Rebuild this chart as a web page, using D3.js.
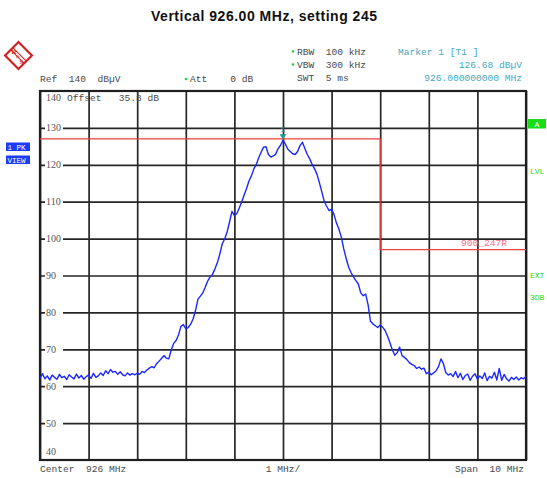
<!DOCTYPE html>
<html><head><meta charset="utf-8">
<script src="https://cdn.jsdelivr.net/npm/d3@7"></script>
<style>body{margin:0;background:#fff}svg{display:block}</style>
</head><body>
<svg id="c" width="547" height="478"></svg>
<script>
// ---------- data ----------
const startFreq = 921.0;     // MHz
const stepFreq = 0.05;       // MHz
const traceLevels = [
62.1,63.4,62.0,62.8,61.7,63.0,62.4,61.9,63.2,62.3,
62.7,61.8,63.1,62.5,62.0,63.3,62.2,62.9,61.9,62.6,
63.0,62.1,63.5,62.4,62.8,63.6,62.9,64.2,63.4,64.5,
63.8,64.0,63.2,63.9,63.1,62.8,63.6,63.0,63.4,63.1,
63.5,63.2,64.0,63.7,64.4,64.9,65.3,65.0,66.1,66.8,
67.5,68.3,67.6,67.4,69.8,71.6,72.4,73.9,76.2,76.7,
75.6,75.9,76.8,78.2,80.5,83.6,84.4,85.3,86.8,88.5,
89.6,90.3,91.8,93.5,95.8,98.6,99.9,101.8,104.5,107.4,
106.2,106.8,108.3,109.9,111.8,113.6,115.6,117.0,118.9,120.1,
121.9,123.4,124.8,124.9,122.8,122.1,122.4,122.9,124.4,125.3,
126.68,125.6,124.2,123.6,123.0,122.8,123.6,125.2,126.1,124.4,
122.8,121.6,120.1,118.9,117.4,115.1,112.6,110.0,108.7,107.6,
108.0,106.5,104.2,102.6,100.4,97.2,94.6,92.3,90.8,89.6,
88.6,87.7,85.3,84.5,85.0,82.1,77.6,76.9,76.4,75.9,
76.6,76.0,75.1,73.6,71.8,69.9,68.4,69.1,70.6,68.3,
67.8,67.2,66.4,65.9,65.6,64.8,65.2,64.6,64.9,63.4,
63.8,63.1,63.6,64.2,65.3,67.4,66.1,63.7,63.0,63.4,
62.6,64.0,62.3,63.5,61.8,62.9,63.3,61.6,62.7,63.4,
61.9,62.8,62.1,63.6,61.5,62.7,62.2,63.8,61.7,64.8,
61.6,63.2,62.0,61.4,62.4,61.8,62.5,61.7,62.3,62.0,
62.6
];
const freqTicks = [921,922,923,924,925,926,927,928,929,930,931];
const levelTicks = [50,60,70,80,90,100,110,120,130];
const limitFreqs = [921, 928, 928, 931];
const limitLevels = [127, 127, 97, 97];
const markerFreq = 926.0;
const markerLevel = 126.68;
const titleText = "Vertical 926.00 MHz, setting 245";

// ---------- layout ----------
const svg = d3.select("#c");
const L = 40, R = 526, T = 91, B = 460;
const x = d3.scaleLinear().domain([921, 931]).range([L, R]);
const y = d3.scaleLinear().domain([40, 140]).range([B, T]);
const mono = "'Liberation Mono', monospace";
const serif = "'Liberation Serif', serif";
const txtCol = "#4a4a4a";

// title
svg.append("text").attr("x", 264).attr("y", 21).attr("text-anchor", "middle")
  .attr("font-family", "'Liberation Sans', Arial, sans-serif").attr("font-weight", "bold")
  .attr("font-size", 14).attr("fill", "#111").attr("textLength", 226).text(titleText);

// R&S logo
const red = "#d42020";
const logo = svg.append("g").attr("transform", "translate(18.5,55.5) rotate(45)");
logo.append("rect").attr("x", -9.5).attr("y", -9.5).attr("width", 19).attr("height", 19)
  .attr("fill", "none").attr("stroke", red).attr("stroke-width", 2.2);
logo.append("line").attr("x1", -9.5).attr("y1", -1.5).attr("x2", 9.5).attr("y2", -1.5)
  .attr("stroke", red).attr("stroke-width", 1);
logo.append("line").attr("x1", -9.5).attr("y1", 1.5).attr("x2", 9.5).attr("y2", 1.5)
  .attr("stroke", red).attr("stroke-width", 1);
svg.append("text").attr("x", 11.5).attr("y", 54).attr("font-family", serif).attr("font-size", 7)
  .attr("font-weight", "bold").attr("fill", red).text("R");
svg.append("text").attr("x", 16).attr("y", 58).attr("font-family", serif).attr("font-size", 5)
  .attr("fill", red).text("&");
svg.append("text").attr("x", 19.5).attr("y", 63.5).attr("font-family", serif).attr("font-size", 7)
  .attr("font-weight", "bold").attr("fill", red).text("S");

// header texts
function t(xp, yp, s, opts = {}) {
  return svg.append("text").attr("x", xp).attr("y", yp)
    .attr("font-family", opts.font || mono).attr("font-size", opts.size || 9.6)
    .attr("fill", opts.fill || txtCol).attr("text-anchor", opts.anchor || "start")
    .attr("xml:space", "preserve").style("white-space", "pre").text(s);
}
function dot(xp, yp) {
  svg.append("circle").attr("cx", xp).attr("cy", yp).attr("r", 1.3).attr("fill", "#22cc44");
}
t(40, 82, "Ref  140  dBµV");
dot(186, 79); t(190, 82, "Att    0 dB");
dot(293, 51.5); t(297, 55, "RBW  100 kHz");
dot(293, 64.5); t(297, 68, "VBW  300 kHz");
t(297, 81, "SWT  5 ms");
const teal = "#3fa9bf";
t(398, 55, "Marker 1 [T1 ]", {fill: teal});
t(522, 68, "126.68 dBµV", {fill: teal, anchor: "end"});
t(522, 81, "926.000000000 MHz", {fill: teal, anchor: "end"});

// left blue boxes
[["1 PK", 142.5], ["VIEW", 155.5]].forEach(([s, yy]) => {
  svg.append("rect").attr("x", 6).attr("y", yy).attr("width", 24).attr("height", 8.5).attr("fill", "#1a3cff");
  t(7.5, yy + 7.3, s, {fill: "#fff", size: 7.5});
});
// right green labels
svg.append("rect").attr("x", 528).attr("y", 119).attr("width", 18).attr("height", 9.5).attr("fill", "#16dd16");
t(537, 127, "A", {fill: "#fff", size: 8, anchor: "middle"});
t(530, 174, "LVL", {fill: "#22dd22", size: 8});
t(530, 278, "EXT", {fill: "#22dd22", size: 8});
t(530, 300, "3DB", {fill: "#22dd22", size: 8});

// grid
const gridCol = "#262626";
svg.append("g").attr("transform", `translate(0,${B})`)
  .call(d3.axisBottom(x).tickValues(freqTicks).tickSize(-(B - T)).tickFormat(""))
  .call(g => g.select(".domain").remove())
  .call(g => g.selectAll("line").attr("stroke", gridCol).attr("stroke-width", 1.7));
svg.append("g").attr("transform", `translate(${L},0)`)
  .call(d3.axisLeft(y).tickValues(levelTicks).tickSize(-(R - L)).tickFormat(""))
  .call(g => g.select(".domain").remove())
  .call(g => g.selectAll("line").attr("stroke", gridCol).attr("stroke-width", 1.7));
// level labels with white background
levelTicks.forEach(v => {
  svg.append("rect").attr("x", 45).attr("y", y(v) - 5).attr("width", 18).attr("height", 10).attr("fill", "#fff");
  t(46, y(v) + 3.5, String(v), {font: serif, size: 10, fill: "#555"});
});
t(46, 101, "140", {font: serif, size: 10, fill: "#555"});
t(46, 455, "40", {font: serif, size: 10, fill: "#555"});
t(67, 101, "Offset   35.8 dB");

// frame
svg.append("rect").attr("x", L).attr("y", T).attr("width", R - L).attr("height", B - T)
  .attr("fill", "none").attr("stroke", "#1e1e1e").attr("stroke-width", 2.2);

// limit line
const limitData = limitFreqs.map((f, i) => [f, limitLevels[i]]);
svg.append("path").datum(limitData)
  .attr("d", d3.line().x(d => x(d[0])).y(d => y(d[1])))
  .attr("fill", "none").attr("stroke", "#f04040").attr("stroke-width", 1.3);
t(461, 246, "900_247R", {fill: "#ff6f8a", size: 9.6});

// trace
const trace = traceLevels.map((v, i) => [startFreq + i * stepFreq, v]);
svg.append("path").datum(trace)
  .attr("d", d3.line().x(d => x(d[0])).y(d => y(d[1])))
  .attr("fill", "none").attr("stroke", "#1a28ff").attr("stroke-width", 1.4)
  .attr("stroke-linejoin", "round");

// marker
const mx = x(markerFreq), my = y(markerLevel);
svg.append("path").attr("d", `M${mx - 3.5},${my - 6} L${mx + 3.5},${my - 6} L${mx},${my - 1} Z`).attr("fill", "#1a9c9c");
svg.append("text").attr("x", mx).attr("y", my - 8).attr("text-anchor", "middle")
  .attr("font-family", mono).attr("font-size", 8).attr("fill", "#1a9c9c").text("1");

// bottom
t(40, 472, "Center  926 MHz");
t(283, 472, "1 MHz/", {anchor: "middle"});
t(524, 472, "Span  10 MHz", {anchor: "end"});
</script>
</body></html>
